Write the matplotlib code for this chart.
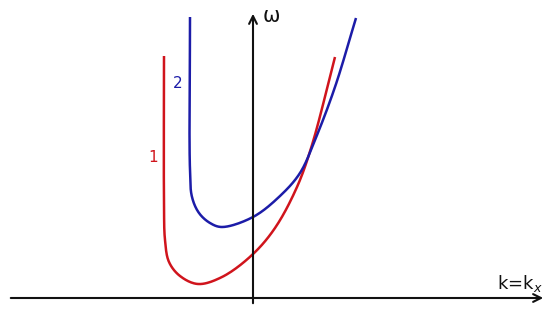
import numpy as np
import matplotlib.pyplot as plt

# curve 1 (red), key points in pixel coordinates
k1 = [164, 164, 165, 169, 180, 198, 222, 252, 275, 297, 312, 335]
w1 = [56, 200, 240, 262, 276, 284, 277, 255, 228, 187, 145, 57]

# curve 2 (blue)
k2 = [190, 190, 192, 199, 210, 222, 253, 280, 300, 315, 335, 356]
w2 = [17, 170, 197, 213, 223, 227, 217, 196, 173, 140, 87, 18]

red = '#d0141c'
blue = '#1c1ca8'


def smooth(xs, ys, n=20, alpha=0.5):
    # centripetal catmull-rom through the read points, so the line is not jagged
    p = np.column_stack([xs, ys]).astype(float)
    p = np.vstack([2 * p[0] - p[1], p, 2 * p[-1] - p[-2]])
    out = []
    for i in range(1, len(p) - 2):
        p0, p1, p2, p3 = p[i - 1], p[i], p[i + 1], p[i + 2]
        t0 = 0.0
        t1 = t0 + np.linalg.norm(p1 - p0) ** alpha
        t2 = t1 + np.linalg.norm(p2 - p1) ** alpha
        t3 = t2 + np.linalg.norm(p3 - p2) ** alpha
        t = np.linspace(t1, t2, n, endpoint=False)[:, None]
        a1 = (t1 - t) / (t1 - t0) * p0 + (t - t0) / (t1 - t0) * p1
        a2 = (t2 - t) / (t2 - t1) * p1 + (t - t1) / (t2 - t1) * p2
        a3 = (t3 - t) / (t3 - t2) * p2 + (t - t2) / (t3 - t2) * p3
        b1 = (t2 - t) / (t2 - t0) * a1 + (t - t0) / (t2 - t0) * a2
        b2 = (t3 - t) / (t3 - t1) * a2 + (t - t1) / (t3 - t1) * a3
        out.append((t2 - t) / (t2 - t1) * b1 + (t - t1) / (t2 - t1) * b2)
    out.append(p[-2][None, :])
    out = np.vstack(out)
    return out[:, 0], out[:, 1]


fig = plt.figure(figsize=(5.5, 3.16), dpi=100)
ax = fig.add_axes([0, 0, 1, 1])
ax.set_xlim(0, 550)
ax.set_ylim(316, 0)
ax.axis('off')

# axes with open arrow heads
ax.annotate('', xy=(546, 298), xytext=(8, 298),
            arrowprops=dict(arrowstyle='->', lw=1.5, color='#111111', mutation_scale=14))
ax.annotate('', xy=(253, 11), xytext=(253, 306),
            arrowprops=dict(arrowstyle='->', lw=1.5, color='#111111', mutation_scale=14))

x, y = smooth(k1, w1)
ax.plot(x, y, color=red, lw=1.8, solid_capstyle='butt')
x, y = smooth(k2, w2)
ax.plot(x, y, color=blue, lw=1.8, solid_capstyle='butt')

ax.text(153, 157, '1', color=red, fontsize=11, ha='center', va='center')
ax.text(178, 83, '2', color=blue, fontsize=11, ha='center', va='center')
ax.text(263, 16, 'ω', color='#111111', fontsize=15, ha='left', va='center')
ax.text(497, 283, 'k=k$_x$', color='#111111', fontsize=13, ha='left', va='center')

fig.savefig('out.png', dpi=100)
